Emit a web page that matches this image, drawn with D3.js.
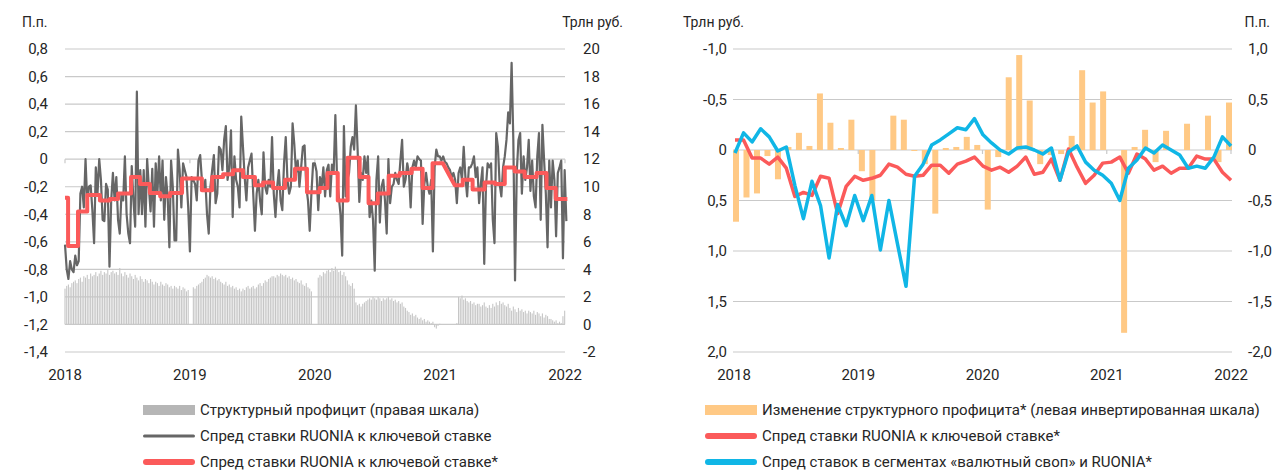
<!DOCTYPE html>
<html><head><meta charset="utf-8">
<script src="https://cdn.jsdelivr.net/npm/d3@7"></script>
<style>
body{margin:0;background:#fff;}
svg text{font-family:"Roboto","Liberation Sans",sans-serif;fill:#262626;}
</style></head><body>
<svg id="c" width="1281" height="470"></svg>
<script>
// ---------- DATA ----------
const years = [2018, 2019, 2020, 2021, 2022];
const leftTicksPP = [0.8, 0.6, 0.4, 0.2, 0, -0.2, -0.4, -0.6, -0.8, -1.0, -1.2, -1.4];
const leftTicksTrln = [20, 18, 16, 14, 12, 10, 8, 6, 4, 2, 0, -2];
const rightTicksTrln = [-1.0, -0.5, 0, 0.5, 1.0, 1.5, 2.0];
const rightTicksPP = [1.0, 0.5, 0, -0.5, -1.0, -1.5, -2.0];

// left chart: daily RUONIA spread, sampled every 5 days from 2018-01-01
const seriesStart = "2018-01-01";
const stepDays = 5;
const ruoniaSpread = [
-0.62,-0.80,-0.87,-0.74,-0.80,-0.82,-0.70,-0.77,-0.74,-0.25,-0.20,-0.35,0.00,-0.32,-0.20,-0.19,-0.37,-0.61,-0.06,-0.25,
0.00,-0.15,-0.44,-0.45,-0.18,-0.22,-0.78,-0.30,-0.10,-0.30,-0.13,-0.44,-0.54,-0.25,-0.30,0.02,-0.40,-0.54,-0.61,-0.05,
-0.30,-0.49,0.49,-0.40,-0.08,-0.40,-0.08,-0.49,0.00,-0.20,-0.38,-0.07,-0.49,-0.03,-0.25,0.02,-0.30,-0.01,-0.44,-0.13,
-0.27,-0.64,-0.01,-0.20,-0.59,-0.59,0.07,-0.08,-0.35,-0.03,-0.08,-0.13,-0.35,-0.67,-0.13,-0.15,-0.18,-0.30,-0.01,0.03,
-0.15,-0.23,-0.15,-0.40,-0.54,-0.20,-0.08,0.03,-0.32,-0.25,0.09,0.07,-0.08,0.14,0.24,-0.15,-0.06,0.21,-0.42,0.02,
-0.15,-0.20,-0.35,0.31,0.09,-0.13,-0.30,-0.06,-0.01,0.04,-0.25,-0.52,-0.25,-0.15,-0.30,-0.40,0.05,-0.20,-0.25,-0.15,
-0.20,0.16,-0.25,-0.42,-0.20,-0.08,-0.30,-0.37,-0.03,0.16,-0.15,-0.25,-0.20,0.26,0.11,-0.10,-0.01,-0.20,-0.06,0.09,
0.10,-0.20,-0.30,-0.52,-0.25,-0.03,-0.03,-0.09,-0.37,-0.13,-0.20,-0.06,-0.27,-0.08,-0.04,-0.27,-0.04,-0.10,0.32,-0.15,
-0.27,-0.40,-0.70,0.24,-0.27,-0.15,-0.10,0.09,0.16,0.07,0.39,0.07,-0.31,-0.10,-0.15,0.02,-0.10,0.02,-0.42,-0.30,
-0.44,-0.81,-0.15,0.02,-0.46,-0.20,-0.15,-0.30,-0.54,0.00,-0.32,-0.20,-0.18,-0.10,-0.15,-0.18,-0.01,0.14,-0.20,-0.15,
-0.03,-0.10,-0.35,-0.06,-0.01,-0.06,0.02,0.00,-0.01,-0.47,-0.18,-0.10,-0.20,-0.25,-0.15,-0.67,-0.06,0.07,0.02,0.02,
-0.01,0.02,-0.02,-0.03,-0.06,-0.08,-0.13,-0.10,-0.15,-0.32,-0.10,-0.06,-0.15,0.09,-0.13,-0.27,-0.06,-0.06,-0.03,0.02,
-0.13,-0.06,-0.32,-0.18,-0.06,-0.76,-0.20,-0.03,-0.06,-0.03,-0.44,-0.61,0.19,0.09,-0.18,-0.27,-0.06,0.02,0.14,0.34,
0.26,0.70,0.14,-0.88,-0.10,0.14,0.19,-0.25,0.02,-0.15,-0.06,0.14,-0.23,-0.01,-0.27,-0.35,0.02,0.19,-0.44,0.25,
-0.01,-0.25,-0.64,-0.01,-0.35,-0.01,-0.15,-0.56,-0.10,-0.06,-0.01,-0.72,-0.08,-0.45
];
// structural surplus, trln rub, same 5-day sampling
const structSurplus = [
2.6,2.8,2.9,2.7,3.0,3.1, 3.2,3.0,3.3,3.4,3.1,3.5, 3.4,3.6,3.3,3.7,3.5,3.6, 3.8,3.5,3.7,3.9,3.6,3.8,
3.7,4.0,3.6,3.8,3.9,3.7, 3.8,3.6,4.1,3.7,3.5,3.8, 3.6,3.4,3.7,3.5,3.3,3.6, 3.4,3.2,3.5,3.3,3.1,3.3,
3.2,3.0,3.3,3.1,2.9,3.1, 3.0,2.8,3.1,2.9,2.8,3.0, 2.9,2.7,2.8,2.6,2.8,2.7, 2.6,2.8,2.5,2.7,2.6,2.4,2.5,
0,0, 2.7,2.6,2.8,2.9,3.0, 3.1,3.3,3.4,3.6,3.5,3.4, 3.5,3.3,3.4,3.2,3.3,3.1, 3.0,2.9,3.1,2.8,2.9,2.7,
2.8,2.6,2.7,2.5,2.6,2.4, 2.6,2.5,2.7,2.8,2.6,2.7, 2.8,2.6,2.7,2.9,3.0,2.8, 3.0,3.2,3.1,3.3,3.4,3.5,
3.5,3.4,3.6,3.5,3.7,3.6, 3.5,3.6,3.4,3.5,3.3,3.4, 3.2,3.3,3.1,3.0,3.2,2.9, 2.8,3.0,2.7,2.6,2.4,0,
0,0, 3.4,3.6,3.5,3.8, 3.7,3.9,4.0,3.8,4.1,3.9, 4.2,4.0,3.8,3.9,3.6,3.8, 3.5,3.2,2.9,2.8,3.0,2.6,
1.6,1.4,1.5,1.3,1.5,1.6, 1.7,1.8,1.9,1.8,2.0,1.9, 1.8,2.0,1.9,1.7,1.9,1.8, 1.9,2.0,1.8,1.9,1.7,1.8,
1.6,1.7,1.5,1.6,1.3,1.2, 1.0,0.9,0.7,0.8,0.6,0.7, 0.5,0.4,0.5,0.3,0.4,0.2, 0.3,0.2,0.1,0.2,-0.2,-0.3,-0.1,
0.05,0,0,0,0,0,0,0,0,0,0.1, 2.0,1.9,2.1,1.8,1.9,1.7, 1.6,1.7,1.5,1.6,1.4,1.5, 1.5,1.3,1.4,1.6,1.3,1.2,
1.4,1.2,1.5,1.3,1.6,1.4, 1.7,1.5,1.6,1.4,1.3,1.5, 1.2,1.0,1.3,1.1,0.9,1.2, 1.0,1.1,0.9,1.0,0.8,1.0,
0.9,0.8,1.0,0.7,0.9,0.8, 0.6,0.8,0.5,0.7,0.6,0.4, 0.4,0.3,0.2,0.3,0.1,0.2,0.1,0.6,1.0
];
// averaging-period RUONIA spread (step line); null = transition drawn as a slope
const periodStarts = ["2018-01-01","2018-01-10","2018-02-08","2018-03-07","2018-04-13","2018-05-12","2018-06-05",
"2018-07-13","2018-08-08","2018-09-06","2018-10-06","2018-11-04","2018-12-09","2019-02-05","2019-03-07","2019-04-08",
"2019-05-07","2019-06-05","2019-07-10","2019-08-03","2019-09-01","2019-10-06","2019-11-04","2019-12-09","2020-01-15",
"2020-02-07","2020-03-08","2020-04-06","2020-05-11","2020-06-06","2020-07-03","2020-08-04","2020-09-05","2020-10-10",
"2020-11-11","2020-12-10","2021-01-09","2021-02-13","2021-03-08","2021-04-06","2021-05-11","2021-06-10","2021-07-09",
"2021-08-07","2021-09-05","2021-10-10","2021-11-08","2021-12-05","2022-01-08"];
const periodSpread = [-0.28,-0.63,-0.38,-0.26,-0.30,-0.29,-0.25,-0.13,-0.18,-0.245,-0.27,-0.245,-0.14,-0.225,-0.13,-0.11,
-0.08,-0.13,-0.19,-0.17,-0.21,-0.15,-0.07,-0.24,-0.21,-0.10,-0.30,0.01,-0.13,-0.32,-0.25,-0.12,-0.10,-0.07,-0.21,-0.03,
null,-0.19,-0.15,-0.22,-0.17,-0.18,-0.06,-0.09,-0.13,-0.10,-0.21,-0.29];

// right chart
const surplusChange = [0.71,0.47,0.43,0.06,0.29,-0.03,-0.17,-0.04,-0.56,-0.27,-0.02,-0.30,
0.21,0.50,0.00,-0.34,-0.30,0.01,0.14,0.63,-0.02,-0.03,-0.13,-0.05,
0.59,0.07,-0.72,-0.94,-0.49,0.14,0.05,0.04,-0.14,-0.79,-0.47,-0.58,
0.00,1.81,-0.03,-0.20,0.12,-0.19,0.00,-0.26,0.00,-0.34,0.12,-0.47];
const ruoniaSpreadAvg = [0.10,0.10,-0.08,-0.08,-0.14,-0.07,-0.18,-0.46,-0.42,-0.45,-0.26,-0.28,-0.63,-0.36,-0.26,
-0.30,-0.28,-0.25,-0.14,-0.17,-0.24,-0.26,-0.25,-0.15,-0.15,-0.23,-0.14,-0.11,-0.07,-0.16,-0.20,-0.17,-0.22,-0.16,
-0.07,-0.24,-0.22,-0.09,-0.30,0.01,-0.17,-0.33,-0.25,-0.13,-0.12,-0.07,-0.23,-0.04,-0.09,-0.20,-0.16,-0.23,-0.18,
-0.18,-0.06,-0.09,-0.09,-0.22,-0.30];
const swapSpread = [-0.03,0.17,0.08,0.21,0.13,-0.01,0.03,-0.35,-0.68,-0.31,-0.55,-1.07,-0.54,-0.75,-0.45,-0.70,-0.45,
-0.99,-0.50,-0.93,-1.35,-0.26,-0.14,0.05,0.10,0.16,0.22,0.20,0.31,0.15,0.07,0.00,-0.04,0.02,0.03,0.00,-0.04,0.02,
-0.30,-0.02,0.04,-0.12,-0.20,-0.25,-0.33,-0.50,-0.18,-0.10,0.02,-0.03,0.05,0.00,-0.05,-0.18,-0.16,-0.18,-0.07,0.13,0.04];

const legendLeft = ["Структурный профицит (правая шкала)", "Спред ставки RUONIA к ключевой ставке", "Спред ставки RUONIA к ключевой ставке*"];
const legendRight = ["Изменение структурного профицита* (левая инвертированная шкала)", "Спред ставки RUONIA к ключевой ставке*", "Спред ставок в сегментах «валютный своп» и RUONIA*"];

// ---------- DRAW ----------
const C = {grid:"#c9c9c9", gray:"#666666", bar:"#c6c6c6", red:"#fb5a5a", blue:"#10b6e6", orange:"#ffc985"};
const loc = d3.formatLocale({decimal:",", thousands:" ", grouping:[3], currency:["",""], minus:"-"});
const f1 = v => v === 0 ? "0" : loc.format(".1f")(v);
const f0 = loc.format("d");
const svg = d3.select("#c");
const parse = d3.utcParse("%Y-%m-%d");
const FS = 15;

// ===== Left chart =====
const L = {x0:65, x1:565, y0:49, y1:352};
const xL = d3.scaleUtc().domain([parse("2018-01-01"), parse("2022-01-01")]).range([L.x0, L.x1]);
const yL = d3.scaleLinear().domain([-1.4, 0.8]).range([L.y1, L.y0]);
const yLR = d3.scaleLinear().domain([-2, 20]).range([L.y1, L.y0]);
const g1 = svg.append("g");
g1.selectAll("line.grid").data(leftTicksPP).join("line")
  .attr("x1", L.x0).attr("x2", L.x1).attr("y1", d => yL(d)).attr("y2", d => yL(d))
  .attr("stroke", C.grid).attr("stroke-width", 1.2);
g1.selectAll("text.tl").data(leftTicksPP).join("text")
  .attr("x", 48).attr("y", d => yL(d)).attr("dy", "0.35em").attr("text-anchor", "end")
  .attr("font-size", FS).text(f1);
g1.selectAll("text.tr").data(leftTicksTrln).join("text")
  .attr("x", 583).attr("y", d => yLR(d)).attr("dy", "0.35em").attr("text-anchor", "start")
  .attr("font-size", FS).text(f0);
const yearDatesL = years.map(y => parse(y + "-01-01"));
g1.selectAll("line.yt").data(yearDatesL).join("line")
  .attr("x1", d => xL(d)).attr("x2", d => xL(d)).attr("y1", yL(0)).attr("y2", yL(0) + 4)
  .attr("stroke", C.grid).attr("stroke-width", 1.2);
g1.selectAll("text.yr").data(yearDatesL).join("text")
  .attr("x", d => xL(d)).attr("y", 375).attr("dy", "0.35em").attr("text-anchor", "middle")
  .attr("font-size", FS).text(d => d.getUTCFullYear());
g1.append("text").attr("x", 22).attr("y", 22).attr("dy", "0.35em").attr("font-size", FS - 1).text("П.п.");
g1.append("text").attr("x", 623).attr("y", 22).attr("dy", "0.35em").attr("text-anchor", "end").attr("font-size", FS - 1).text("Трлн руб.");

const dayMs = 86400000;
const t0 = parse(seriesStart).getTime();
const dateAt = i => new Date(t0 + i * stepDays * dayMs);
g1.append("g").selectAll("rect").data(structSurplus).join("rect")
  .attr("x", (d, i) => xL(dateAt(i)) - 0.55).attr("width", 1.1)
  .attr("y", d => Math.min(yLR(d), yLR(0))).attr("height", d => Math.abs(yLR(d) - yLR(0)))
  .attr("fill", C.bar);
const grayLine = d3.line().x((d, i) => xL(dateAt(i))).y(d => yL(d));
g1.append("path").attr("d", grayLine(ruoniaSpread)).attr("fill", "none")
  .attr("stroke", C.gray).attr("stroke-width", 2.2).attr("stroke-linejoin", "round");
const stepPts = [];
for (let i = 0; i < periodSpread.length; i++) {
  if (periodSpread[i] === null) continue;
  stepPts.push([parse(periodStarts[i]), periodSpread[i]]);
  stepPts.push([parse(periodStarts[i + 1]), periodSpread[i]]);
}
g1.append("path").attr("d", d3.line().x(d => xL(d[0])).y(d => yL(d[1]))(stepPts)).attr("fill", "none")
  .attr("stroke", C.red).attr("stroke-width", 4).attr("stroke-linejoin", "round");

// ===== Right chart =====
const R = {x0:733, x1:1232, y0:49, y1:352};
const yR = d3.scaleLinear().domain([-1, 2]).range([R.y0, R.y1]);      // inverted trln rub
const yRR = d3.scaleLinear().domain([1, -2]).range([R.y0, R.y1]);     // p.p.
const xYear = d3.scaleLinear().domain([2018, 2022]).range([734, 1231]);
const xBar = d3.scaleLinear().domain([0, surplusChange.length - 1]).range([736, 1229]);
const xLine = d3.scaleLinear().domain([0, swapSpread.length - 1]).range([735, 1231]);
const g2 = svg.append("g");
g2.selectAll("line.grid").data(rightTicksTrln).join("line")
  .attr("x1", R.x0).attr("x2", R.x1).attr("y1", d => yR(d)).attr("y2", d => yR(d))
  .attr("stroke", C.grid).attr("stroke-width", 1.2);
g2.selectAll("text.tl").data(rightTicksTrln).join("text")
  .attr("x", 727).attr("y", d => yR(d)).attr("dy", "0.35em").attr("text-anchor", "end")
  .attr("font-size", FS).text(f1);
g2.selectAll("text.tr").data(rightTicksPP).join("text")
  .attr("x", 1248).attr("y", d => yRR(d)).attr("dy", "0.35em").attr("text-anchor", "start")
  .attr("font-size", FS).text(f1);
g2.selectAll("line.yt").data(years).join("line")
  .attr("x1", d => xYear(d)).attr("x2", d => xYear(d)).attr("y1", yR(0)).attr("y2", yR(0) + 4)
  .attr("stroke", C.grid).attr("stroke-width", 1.2);
g2.selectAll("text.yr").data(years).join("text")
  .attr("x", d => xYear(d)).attr("y", 375).attr("dy", "0.35em").attr("text-anchor", "middle")
  .attr("font-size", FS).text(d => d);
g2.append("text").attr("x", 683).attr("y", 22).attr("dy", "0.35em").attr("font-size", FS - 1).text("Трлн руб.");
g2.append("text").attr("x", 1270).attr("y", 22).attr("dy", "0.35em").attr("text-anchor", "end").attr("font-size", FS - 1).text("П.п.");

g2.append("g").selectAll("rect").data(surplusChange).join("rect")
  .attr("x", (d, i) => xBar(i) - 3).attr("width", 6)
  .attr("y", d => Math.min(yR(d), yR(0))).attr("height", d => Math.abs(yR(d) - yR(0)))
  .attr("fill", C.orange);
const lineR = d3.line().x((d, i) => xLine(i)).y(d => yRR(d));
g2.append("path").attr("d", lineR(ruoniaSpreadAvg)).attr("fill", "none")
  .attr("stroke", C.red).attr("stroke-width", 3.5).attr("stroke-linejoin", "round");
g2.append("path").attr("d", lineR(swapSpread)).attr("fill", "none")
  .attr("stroke", C.blue).attr("stroke-width", 3.5).attr("stroke-linejoin", "round");

// ===== Legends =====
const rowsY = [410, 436, 462];
function legend(x, labels, kinds) {
  const g = svg.append("g");
  labels.forEach((lab, i) => {
    const k = kinds[i], y = rowsY[i];
    if (k.type === "rect") g.append("rect").attr("x", x).attr("y", y - 5).attr("width", 52).attr("height", 10).attr("fill", k.color);
    else g.append("line").attr("x1", x + k.w / 2).attr("x2", x + 52 - k.w / 2).attr("y1", y).attr("y2", y)
      .attr("stroke", k.color).attr("stroke-width", k.w).attr("stroke-linecap", "round");
    g.append("text").attr("x", x + 57).attr("y", y).attr("dy", "0.35em").attr("font-size", FS).text(lab);
  });
}
legend(143, legendLeft, [{type:"rect", color:"#b6b6b6"}, {type:"line", color:C.gray, w:3}, {type:"line", color:C.red, w:6}]);
legend(705, legendRight, [{type:"rect", color:C.orange}, {type:"line", color:C.red, w:6}, {type:"line", color:C.blue, w:6}]);
</script>
</body></html>
